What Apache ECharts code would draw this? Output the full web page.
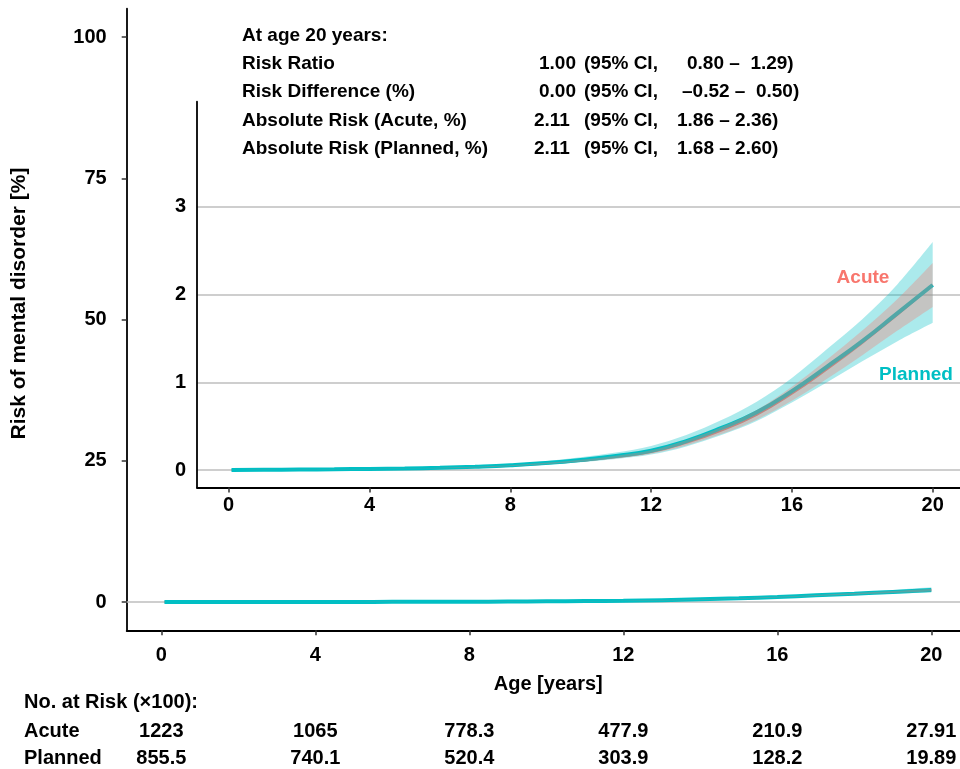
<!DOCTYPE html>
<html><head><meta charset="utf-8">
<script src="https://cdn.jsdelivr.net/npm/echarts@6/dist/echarts.min.js"></script>
<style>html,body{margin:0;padding:0;background:#fff}#c{width:960px;height:769px}</style>
</head><body><div id="c"></div>
<script>
// ---------------- data ----------------
const ages = [0.08, 1, 2, 3, 4, 5, 6, 7, 8, 9, 10, 11, 12, 13, 14, 15, 16, 17, 18, 19, 20];
const plannedRisk  = [0, 0.003, 0.006, 0.009, 0.013, 0.018, 0.026, 0.038, 0.055, 0.08, 0.115, 0.16, 0.22, 0.33, 0.48, 0.66, 0.90, 1.18, 1.47, 1.79, 2.11];
const plannedLower = [0, 0.002, 0.004, 0.006, 0.009, 0.013, 0.019, 0.028, 0.042, 0.062, 0.09, 0.127, 0.176, 0.27, 0.40, 0.56, 0.77, 1.00, 1.24, 1.47, 1.68];
const plannedUpper = [0, 0.004, 0.008, 0.012, 0.017, 0.024, 0.034, 0.05, 0.07, 0.10, 0.145, 0.20, 0.275, 0.40, 0.57, 0.78, 1.05, 1.38, 1.72, 2.12, 2.60];
const acuteRisk    = [0, 0.002, 0.005, 0.008, 0.011, 0.016, 0.023, 0.034, 0.05, 0.073, 0.105, 0.148, 0.205, 0.31, 0.45, 0.63, 0.87, 1.15, 1.45, 1.77, 2.11];
const acuteLower   = [0, 0.002, 0.004, 0.007, 0.01, 0.014, 0.02, 0.03, 0.044, 0.065, 0.094, 0.133, 0.185, 0.28, 0.41, 0.575, 0.79, 1.04, 1.31, 1.59, 1.86];
const acuteUpper   = [0, 0.003, 0.006, 0.009, 0.013, 0.018, 0.026, 0.038, 0.056, 0.082, 0.117, 0.164, 0.226, 0.34, 0.49, 0.685, 0.95, 1.26, 1.59, 1.95, 2.36];

const xTicks = [0, 4, 8, 12, 16, 20];
const mainYTicks = [0, 25, 50, 75, 100];
const insetYTicks = [0, 1, 2, 3];

const riskTableTitle = 'No. at Risk (×100):';
const riskGroups = ['Acute', 'Planned'];
const riskAcute   = ['1223', '1065', '778.3', '477.9', '210.9', '27.91'];
const riskPlanned = ['855.5', '740.1', '520.4', '303.9', '128.2', '19.89'];

const summaryTitle = 'At age 20 years:';
const summaryLabels = ['Risk Ratio', 'Risk Difference (%)', 'Absolute Risk (Acute, %)', 'Absolute Risk (Planned, %)'];
const summaryEst = ['1.00', '0.00', '2.11', '2.11'];
const summaryCI = ['0.80 –  1.29)', '–0.52 –  0.50)', '1.86 – 2.36)', '1.68 – 2.60)'];

// ---------------- styles ----------------
const FONT = '"Liberation Sans", Arial, Helvetica, sans-serif';
const C_ACUTE = '#F8766D', C_PLANNED = '#00BFC4';
const GRIDGRAY = '#BEBEBE';

const chart = echarts.init(document.getElementById('c'), null, {renderer: 'canvas'});

function pairs(arr) { return ages.map((a, i) => [a, arr[i]]); }
function triples(lo, up) { return ages.map((a, i) => [a, lo[i], up[i]]); }

function xAxisCfg(g, margin, withName) {
  return {
    type: 'value', gridIndex: g, min: -0.9, max: 21,
    axisLine: {show: true, onZero: false, lineStyle: {color: '#000', width: 1.8}},
    axisTick: {show: true, length: 5, customValues: xTicks, lineStyle: {color: '#333', width: 1.5}},
    axisLabel: {customValues: xTicks, color: '#000', fontSize: 20, fontWeight: 'bold', fontFamily: FONT, margin: margin},
    splitLine: {show: false},
    name: withName ? 'Age [years]' : '',
    nameLocation: 'middle', nameGap: 44,
    nameTextStyle: {color: '#000', fontSize: 20, fontWeight: 'bold', fontFamily: FONT}
  };
}

const xAxes = [xAxisCfg(0, 15, true), xAxisCfg(1, 8, false)];
const yAxes = [
  {
    type: 'value', gridIndex: 0, min: -5, max: 105,
    axisLine: {show: true, onZero: false, lineStyle: {color: '#000', width: 1.8}},
    axisTick: {show: true, length: 5, customValues: mainYTicks, lineStyle: {color: '#333', width: 1.5}},
    axisLabel: {customValues: mainYTicks, color: '#000', fontSize: 20, fontWeight: 'bold', fontFamily: FONT, margin: 20},
    splitLine: {show: false},
    name: 'Risk of mental disorder [%]', nameLocation: 'middle', nameGap: 97, nameRotate: 90,
    nameTextStyle: {color: '#000', fontSize: 21, fontWeight: 'bold', fontFamily: FONT, padding: [0, 0, 0, 32]}
  },
  {
    type: 'value', gridIndex: 1, min: -0.2, max: 4.2,
    axisLine: {show: true, onZero: false, lineStyle: {color: '#000', width: 1.8}},
    axisTick: {show: false, customValues: insetYTicks},
    axisLabel: {customValues: insetYTicks, color: '#000', fontSize: 20, fontWeight: 'bold', fontFamily: FONT, margin: 11},
    splitLine: {show: true, lineStyle: {color: GRIDGRAY, width: 1.6}}
  }
];

// smooth path through pixel points (Catmull-Rom -> cubic Bezier)
function smoothSegs(p, startWithMove) {
  let d = (startWithMove ? 'M' : 'L') + p[0][0] + ' ' + p[0][1];
  for (let i = 0; i < p.length - 1; i++) {
    const p0 = p[Math.max(i - 1, 0)], p1 = p[i], p2 = p[i + 1], p3 = p[Math.min(i + 2, p.length - 1)];
    const c1 = [p1[0] + (p2[0] - p0[0]) / 6, p1[1] + (p2[1] - p0[1]) / 6];
    const c2 = [p2[0] - (p3[0] - p1[0]) / 6, p2[1] - (p3[1] - p1[1]) / 6];
    d += 'C' + c1[0] + ' ' + c1[1] + ' ' + c2[0] + ' ' + c2[1] + ' ' + p2[0] + ' ' + p2[1];
  }
  return d;
}

// CI band drawn as one filled path through the axis scales (api.coord)
function bandSeries(g, lo, up, color) {
  return {
    type: 'custom', xAxisIndex: g, yAxisIndex: g, z: 3, silent: true, animation: false,
    data: triples(lo, up),
    encode: {x: 0, y: [1, 2]},
    renderItem: function (params, api) {
      if (params.dataIndex !== 0) return null;
      const upPts = [], loPts = [];
      for (let i = 0; i < ages.length; i++) upPts.push(api.coord([ages[i], up[i]]));
      for (let i = ages.length - 1; i >= 0; i--) loPts.push(api.coord([ages[i], lo[i]]));
      const d = smoothSegs(upPts, true) + smoothSegs(loPts, false) + 'Z';
      return {type: 'path', shape: {pathData: d}, style: {fill: color, opacity: 0.33, stroke: null}};
    }
  };
}

const series = [];
[0, 1].forEach(g => {
  const base = {type: 'line', xAxisIndex: g, yAxisIndex: g, symbol: 'none', smooth: true, silent: true, animation: false};
  const acuteLine = Object.assign({}, base, {name: 'Acute', data: pairs(acuteRisk), z: 2,
    lineStyle: {color: C_ACUTE, width: 2}});
  if (g === 0) {
    acuteLine.markLine = {silent: true, z: 1, symbol: ['none', 'none'], label: {show: false}, animation: false,
      lineStyle: {color: GRIDGRAY, width: 1.6, type: 'solid'}, emphasis: {disabled: true},
      data: [{yAxis: 0}]};
  }
  series.push(acuteLine);
  series.push(Object.assign({}, base, {name: 'Planned', data: pairs(plannedRisk), z: 2,
    lineStyle: {color: C_PLANNED, width: 4}}));
  series.push(bandSeries(g, plannedLower, plannedUpper, C_PLANNED));
  series.push(bandSeries(g, acuteLower, acuteUpper, C_ACUTE));
});

chart.setOption({
  backgroundColor: '#fff',
  animation: false,
  grid: [
    {left: 126.7, top: 8.75, width: 843.1, height: 621.5, show: false, outerBoundsMode: 'none', containLabel: false},
    {left: 197, top: 101.7, width: 770.9, height: 385.9, show: true, backgroundColor: '#fff', borderWidth: 0, outerBoundsMode: 'none', containLabel: false}
  ],
  xAxis: xAxes,
  yAxis: yAxes,
  series: series
});

// ---------------- text overlays ----------------
function txt(text, x, y, opts) {
  opts = opts || {};
  const align = opts.align || 'left';
  return {
    type: 'text', x: x, y: y, silent: true, z: 100,
    style: {
      text: text, fill: opts.color || '#000',
      font: 'bold ' + (opts.size || 19) + 'px ' + FONT,
      align: align, textAlign: align, verticalAlign: 'middle', textVerticalAlign: 'middle'
    }
  };
}
const els = [];
const lineY = [36, 64, 92, 121, 149];
els.push(txt(summaryTitle, 242, lineY[0]));
const estX = [539, 539, 534, 534];
const ciX = [687, 682, 677, 677];
summaryLabels.forEach((l, i) => {
  els.push(txt(l, 242, lineY[i + 1]));
  els.push(txt(summaryEst[i], estX[i], lineY[i + 1]));
  els.push(txt('(95% CI,', 584, lineY[i + 1]));
  els.push(txt(summaryCI[i], ciX[i], lineY[i + 1]));
});
els.push(txt('Acute', 863, 278, {color: C_ACUTE, align: 'center'}));
els.push(txt('Planned', 916, 375, {color: C_PLANNED, align: 'center'}));

els.push(txt(riskTableTitle, 24, 702, {size: 20}));
els.push(txt(riskGroups[0], 24, 731, {size: 20}));
els.push(txt(riskGroups[1], 24, 758, {size: 20}));
xTicks.forEach((t, i) => {
  const px = chart.convertToPixel({xAxisIndex: 0}, t);
  els.push(txt(riskAcute[i], px, 731, {size: 20, align: 'center'}));
  els.push(txt(riskPlanned[i], px, 758, {size: 20, align: 'center'}));
});
chart.setOption({graphic: {elements: els}});
</script>
</body></html>
